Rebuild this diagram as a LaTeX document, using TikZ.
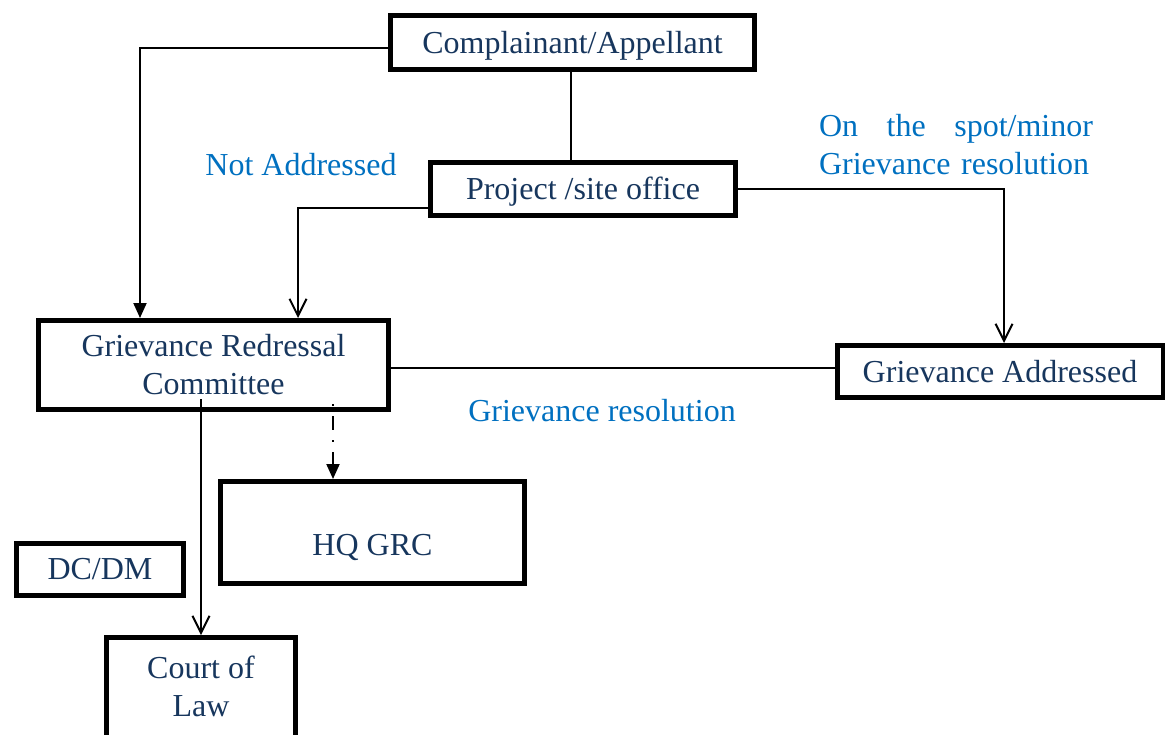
\documentclass[tikz,border=0pt]{standalone}
\usepackage{fontspec}
\setmainfont{Liberation Serif}
\usetikzlibrary{arrows.meta}
\definecolor{navytext}{HTML}{17365D}
\definecolor{bluenote}{HTML}{0070C0}
\tikzset{
  box/.style={draw, rectangle, line width=2.5pt, inner sep=0pt, align=center,
    text depth=0.5pt, text=navytext, font=\fontsize{16}{19}\selectfont},
  inbox/.style={text=navytext, align=center, font=\fontsize{16}{19}\selectfont},
  note/.style={text=bluenote, inner sep=0pt, font=\fontsize{16}{19}\selectfont},
  link/.style={line width=1pt},
  opentip/.style={-{Straight Barb[length=8.5pt,width=8.5pt]}},
  solidtip/.style={-{Triangle[length=7.5pt,width=6.5pt]}},
}
\begin{document}
\begin{tikzpicture}[x=0.5pt,y=-0.5pt]
  \useasboundingbox (0,0) rectangle (1165,734);
  \clip (0,0) rectangle (1165,734);
  % boxes
  \node[box, minimum width=182pt, minimum height=27pt] (comp) at (572.5,42.5) {Complainant/Appellant};
  \node[box, minimum width=152.5pt, minimum height=26.5pt] (proj) at (583,189) {Project /site office};
  \node[box, minimum width=175pt, minimum height=44.5pt] (grc) at (213.5,365) {Grievance Redressal\\Committee};
  \node[box, minimum width=163pt, minimum height=26pt] (ga) at (1000,371.5) {Grievance Addressed};
  \node[box, minimum width=152pt, minimum height=51pt,
    label={[inbox, yshift=-7.5pt]center:HQ GRC}] (hq) at (372.5,532.5) {};
  \node[box, minimum width=83.5pt, minimum height=26pt] (dcdm) at (100,569.5) {DC/DM};
  \node[box, minimum width=94.5pt, minimum height=65pt,
    label={[inbox, yshift=8pt]center:Court of\\Law}] (court) at (201,702.5) {};
  % notes
  \node[note] (notaddr) at (301,165) {Not Addressed};
  \node[note, text width=137pt, align=left] (spot) at (956,145) {On\hfill the\hfill spot/minor\\Grievance resolution};
  \node[note] (resol) at (602,411) {Grievance resolution};
  % bend points
  \coordinate (k1) at (140,0);
  \coordinate (k2) at (298,0);
  \coordinate (k3) at (571,0);
  \coordinate (k5) at (0,368);
  \coordinate (k7) at (333,0);
  % links
  \draw[link, solidtip] ([yshift=-2.75pt]comp.west) -| (k1 |- grc.north);
  \draw[link] (comp.south -| k3) -- (proj.north -| k3);
  \draw[link, opentip] ([yshift=-9.5pt]proj.west) -| (k2 |- grc.north);
  \draw[link, opentip] (proj.east) -| ([xshift=2pt]ga.north);
  \draw[link] (grc.east |- k5) -- (ga.west |- k5);
  \draw[link, opentip] ([yshift=6.5pt]grc.south -| court.north) -- (court.north);
  \draw[link, solidtip, dash pattern=on 1pt off 5pt on 7pt off 5pt] ([yshift=4pt]grc.south -| k7) -- (hq.north -| k7);
\end{tikzpicture}
\end{document}
